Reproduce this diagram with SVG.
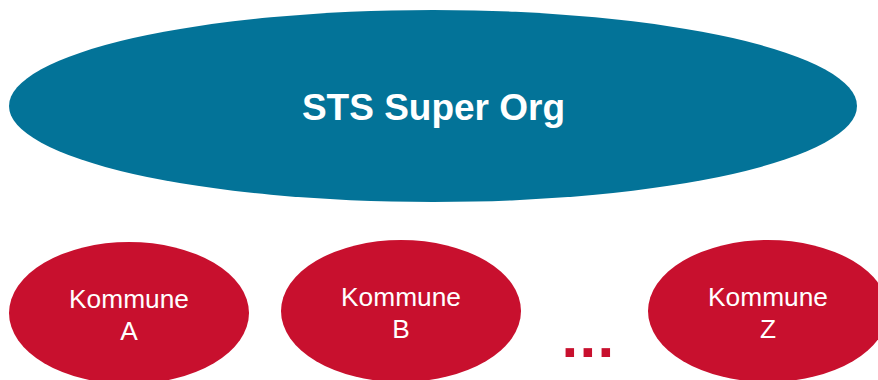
<svg xmlns="http://www.w3.org/2000/svg" width="878" height="380" viewBox="0 0 878 380">
<style>
.sup{fill:#037398}
.kom{fill:#C8102E}
.t{font-family:"Liberation Sans",Arial,sans-serif;fill:#fff;text-anchor:middle}
.big{font-size:37px;font-weight:bold}
.small{font-size:26.3px}
.dots{font-family:"Liberation Sans",Arial,sans-serif;font-weight:bold;font-size:60px;fill:#C8102E;letter-spacing:1.3px}
</style>
<rect width="878" height="380" fill="#fff"/>
<g id="connectors"></g>
<g id="super-org">
<ellipse class="sup" cx="433" cy="106" rx="424" ry="96"/>
<text class="t big" x="433.5" y="120">STS Super Org</text>
</g>
<g id="kommune-a">
<ellipse class="kom" cx="129" cy="313" rx="120" ry="71"/>
<text class="t small" x="129" y="308">Kommune</text>
<text class="t small" x="129" y="340">A</text>
</g>
<g id="kommune-b">
<ellipse class="kom" cx="401" cy="311" rx="120" ry="71"/>
<text class="t small" x="401" y="306">Kommune</text>
<text class="t small" x="401" y="338">B</text>
</g>
<g id="ellipsis">
<text class="dots" x="561.5" y="356.5">...</text>
</g>
<g id="kommune-z">
<ellipse class="kom" cx="768" cy="311" rx="120" ry="71"/>
<text class="t small" x="768" y="306">Kommune</text>
<text class="t small" x="768" y="338">Z</text>
</g>
</svg>
